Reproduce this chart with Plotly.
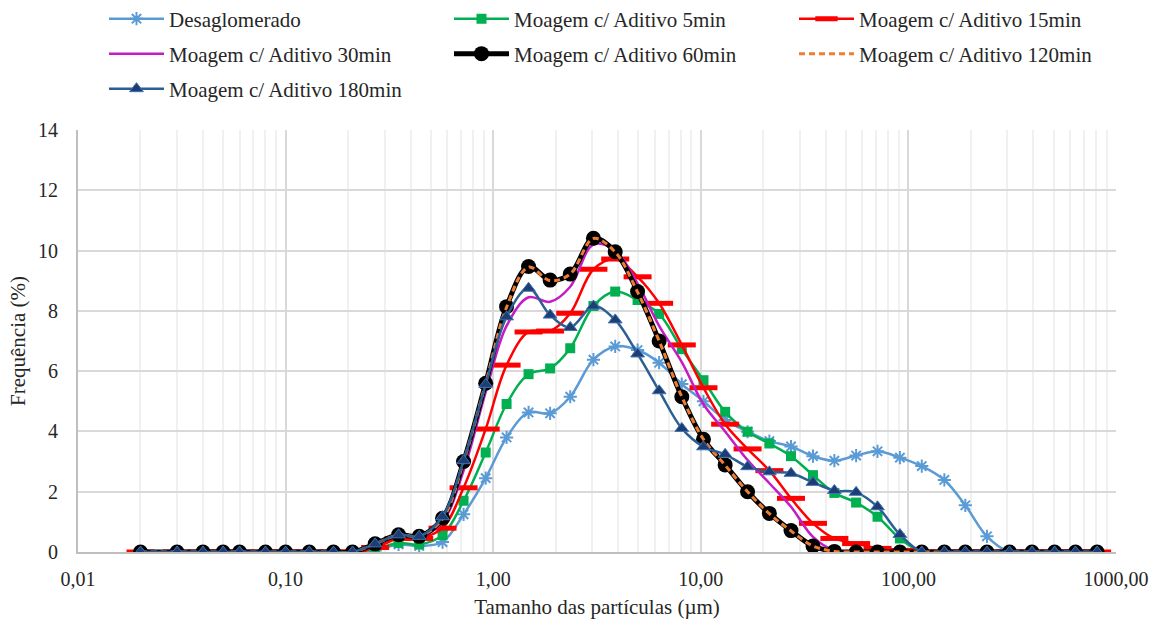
import plotly.graph_objects as go

# particle size classes (µm)
sizes = [0.02, 0.03, 0.04, 0.05, 0.06, 0.08, 0.10, 0.13, 0.17, 0.21,
         0.27, 0.35, 0.44, 0.57, 0.72, 0.92, 1.16, 1.48, 1.88, 2.35,
         3.04, 3.87, 4.96, 6.3, 8.1, 10.3, 13.1, 16.8, 21.4, 27.2,
         34.7, 44, 56, 71, 91, 116, 149, 188, 239, 307,
         394, 506, 638, 811]

Z10 = [0] * 10
Z9 = [0] * 9

desaglomerado = Z10 + [0.05, 0.25, 0.2, 0.33, 1.25, 2.45, 3.8, 4.63, 4.6, 5.15,
                       6.38, 6.82, 6.7, 6.28, 5.57, 5.0, 4.38, 3.99, 3.68, 3.5,
                       3.18, 3.03, 3.2, 3.34, 3.13, 2.85, 2.39, 1.55, 0.52, 0,
                       0, 0, 0, 0]
aditivo_5 = Z10 + [0.1, 0.3, 0.25, 0.56, 1.7, 3.3, 4.91, 5.9, 6.09, 6.76,
                   8.16, 8.64, 8.36, 7.9, 6.73, 5.7, 4.65, 3.99, 3.6, 3.18,
                   2.55, 1.96, 1.64, 1.17, 0.45] + Z9
aditivo_15 = Z10 + [0.15, 0.45, 0.45, 0.79, 2.13, 4.08, 6.2, 7.3, 7.33, 7.92,
                    9.38, 9.72, 9.13, 8.25, 6.87, 5.45, 4.24, 3.42, 2.7, 1.78,
                    0.95, 0.45, 0.28, 0.12, 0.05] + Z9
aditivo_30 = Z10 + [0.25, 0.55, 0.5, 1.0, 2.7, 5.3, 7.5, 8.45, 8.3, 8.8,
                    10.2, 10.0, 8.9, 7.5, 6.3, 4.9, 4.0, 3.05, 2.28, 1.5,
                    0.5, 0.05, 0, 0, 0] + Z9
aditivo_60 = Z10 + [0.27, 0.57, 0.52, 1.12, 3.0, 5.6, 8.14, 9.47, 9.02, 9.22,
                    10.41, 9.96, 8.64, 7.0, 5.15, 3.74, 2.89, 2.0, 1.28, 0.71,
                    0.2, 0.02, 0, 0, 0] + Z9
aditivo_120 = Z10 + [0.27, 0.57, 0.52, 1.1, 3.0, 5.6, 8.12, 9.45, 9.0, 9.22,
                     10.4, 9.95, 8.62, 7.0, 5.15, 3.74, 2.88, 2.0, 1.27, 0.7,
                     0.2, 0.02, 0, 0, 0] + Z9
aditivo_180 = Z10 + [0.27, 0.57, 0.52, 1.17, 3.03, 5.56, 7.8, 8.75, 7.86, 7.45,
                     8.16, 7.7, 6.57, 5.35, 4.1, 3.49, 3.24, 2.83, 2.66, 2.61,
                     2.31, 2.04, 1.98, 1.5, 0.58] + Z9

x_tickvals = [0.01, 0.1, 1, 10, 100, 1000]
x_ticktext = ["0,01", "0,10", "1,00", "10,00", "100,00", "1000,00"]
minor_vals = [m * 10 ** e for e in range(-2, 3) for m in range(2, 10)]

FONT = "Liberation Serif"
TXT = "#262626"

fig = go.Figure()

fig.add_trace(go.Scatter(
    x=sizes, y=desaglomerado, name="Desaglomerado", mode="lines+markers",
    legend="legend",
    line=dict(color="#5B9BD5", width=2.5, shape="spline", smoothing=1),
    marker=dict(symbol="asterisk-open", size=11,
                line=dict(color="#5B9BD5", width=2))))
fig.add_trace(go.Scatter(
    x=sizes, y=aditivo_5, name="Moagem c/ Aditivo 5min", mode="lines+markers",
    legend="legend2",
    line=dict(color="#00B050", width=2.5, shape="spline", smoothing=1),
    marker=dict(symbol="square", size=10, color="#00B050")))
fig.add_trace(go.Scatter(
    x=sizes, y=aditivo_15, name="Moagem c/ Aditivo 15min", mode="lines+markers",
    legend="legend3",
    line=dict(color="#FF0000", width=2.5, shape="spline", smoothing=1),
    marker=dict(symbol="line-ew", size=20,
                line=dict(color="#FF0000", width=5))))
fig.add_trace(go.Scatter(
    x=sizes, y=aditivo_30, name="Moagem c/ Aditivo 30min", mode="lines",
    legend="legend4",
    line=dict(color="#C51BC5", width=2.5, shape="spline", smoothing=1)))
fig.add_trace(go.Scatter(
    x=sizes, y=aditivo_60, name="Moagem c/ Aditivo 60min", mode="lines+markers",
    legend="legend5",
    line=dict(color="#000000", width=5, shape="spline", smoothing=1),
    marker=dict(symbol="circle", size=15, color="#000000")))
fig.add_trace(go.Scatter(
    x=sizes, y=aditivo_120, name="Moagem c/ Aditivo 120min", mode="lines",
    legend="legend6",
    line=dict(color="#ED7D31", width=3, dash="6px,4px", shape="spline", smoothing=1)))
fig.add_trace(go.Scatter(
    x=sizes, y=aditivo_180, name="Moagem c/ Aditivo 180min", mode="lines+markers",
    legend="legend7",
    line=dict(color="#2B5F93", width=2.5, shape="spline", smoothing=1),
    marker=dict(symbol="triangle-up", size=12, color="#1F3D73",
                line=dict(color="#3D74B3", width=1))))

legend_common = dict(orientation="v", xref="container", yref="container",
                     xanchor="left", yanchor="middle", itemwidth=55,
                     font=dict(family=FONT, size=21, color=TXT),
                     bgcolor="rgba(0,0,0,0)")
col_x = [0.0895, 0.3864, 0.6833]
row_y = [0.9696, 0.9137, 0.8578]

fig.update_layout(
    width=1162, height=626,
    margin=dict(l=78, r=46, t=130, b=74, autoexpand=False),
    paper_bgcolor="white", plot_bgcolor="white",
    font=dict(family=FONT, size=20, color=TXT),
    showlegend=True,
    legend=dict(x=col_x[0], y=row_y[0], **legend_common),
    legend2=dict(x=col_x[1], y=row_y[0], **legend_common),
    legend3=dict(x=col_x[2], y=row_y[0], **legend_common),
    legend4=dict(x=col_x[0], y=row_y[1], **legend_common),
    legend5=dict(x=col_x[1], y=row_y[1], **legend_common),
    legend6=dict(x=col_x[2], y=row_y[1], **legend_common),
    legend7=dict(x=col_x[0], y=row_y[2], **legend_common),
    xaxis=dict(type="log", range=[-2, 3], tickvals=x_tickvals, ticktext=x_ticktext,
               showgrid=True, gridcolor="#d9d9d9", gridwidth=1.5,
               minor=dict(tickvals=minor_vals, showgrid=True, gridcolor="#f0f0f0",
                          gridwidth=1.5, ticks=""),
               showline=True, linecolor="#bfbfbf", linewidth=2, ticks="",
               zeroline=False, ticklabelstandoff=8,
               title=dict(text="Tamanho das partículas (µm)", standoff=10,
                          font=dict(family=FONT, size=21, color=TXT))),
    yaxis=dict(range=[0, 14], dtick=2, showgrid=True, gridcolor="#d9d9d9",
               gridwidth=1.5, showline=True, linecolor="#bfbfbf", linewidth=2,
               ticks="", zeroline=False, ticklabelstandoff=14),
    annotations=[dict(text="Frequência (%)", xref="paper", yref="paper",
                      x=-0.0578, y=0.5, xanchor="center", yanchor="middle",
                      textangle=-90, showarrow=False,
                      font=dict(family=FONT, size=21, color=TXT))],
)

fig.write_html("out.html")
